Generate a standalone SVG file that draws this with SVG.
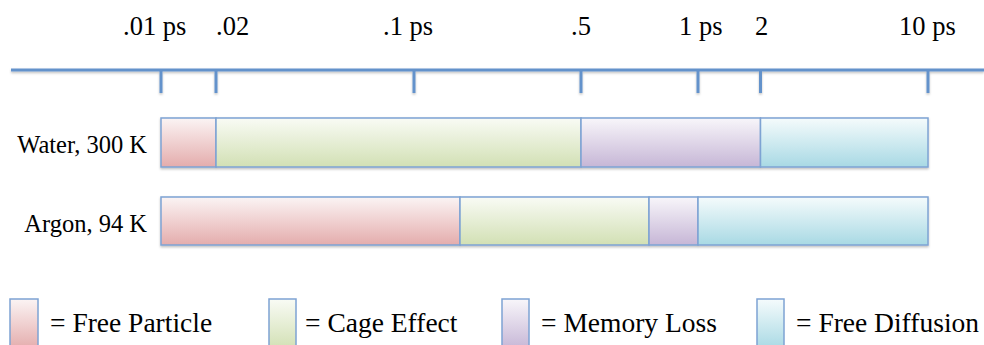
<svg xmlns="http://www.w3.org/2000/svg" width="984" height="345" viewBox="0 0 984 345">
<defs>
<linearGradient id="gPink" x1="0" y1="0" x2="0" y2="1"><stop offset="0" stop-color="#fbf4f4"/><stop offset="1" stop-color="#e4acac"/></linearGradient>
<linearGradient id="gGreen" x1="0" y1="0" x2="0" y2="1"><stop offset="0" stop-color="#f9fbf5"/><stop offset="1" stop-color="#d2e0b4"/></linearGradient>
<linearGradient id="gPurple" x1="0" y1="0" x2="0" y2="1"><stop offset="0" stop-color="#f8f6fa"/><stop offset="1" stop-color="#c6b6d6"/></linearGradient>
<linearGradient id="gCyan" x1="0" y1="0" x2="0" y2="1"><stop offset="0" stop-color="#f5fbfc"/><stop offset="1" stop-color="#a8d9e4"/></linearGradient>
<filter id="sh" x="-5%" y="-20%" width="110%" height="150%"><feDropShadow dx="0" dy="1.5" stdDeviation="1" flood-color="#000" flood-opacity="0.25"/></filter>
</defs>
<style>
text{fill:#000}
.tick{font-size:26.5px}
.row{font-size:24.5px}
.leg{font-size:27.5px}
.axis{stroke:#6492cb;stroke-width:3;fill:none}
.seg{stroke:#7ea3d3;stroke-width:1.5}
</style>
<g font-family="'Liberation Serif', 'Times New Roman', 'DejaVu Serif', serif">
<g id="axis" filter="url(#sh)">
<line class="axis" x1="11" y1="70" x2="984" y2="70"/>
<line class="axis" x1="161" y1="70" x2="161" y2="93"/>
<line class="axis" x1="216" y1="70" x2="216" y2="93"/>
<line class="axis" x1="414" y1="70" x2="414" y2="93"/>
<line class="axis" x1="581" y1="70" x2="581" y2="93"/>
<line class="axis" x1="698" y1="70" x2="698" y2="93"/>
<line class="axis" x1="760.5" y1="70" x2="760.5" y2="93"/>
<line class="axis" x1="928" y1="70" x2="928" y2="93"/>
</g>
<g id="tick-labels">
<text class="tick" x="123" y="35">.01 ps</text>
<text class="tick" x="216" y="35">.02</text>
<text class="tick" x="383" y="35">.1 ps</text>
<text class="tick" x="571" y="35">.5</text>
<text class="tick" x="679" y="35">1 ps</text>
<text class="tick" x="755" y="35">2</text>
<text class="tick" x="899" y="35">10 ps</text>
</g>
<g id="water">
<text class="row" x="147" y="153" text-anchor="end">Water, 300 K</text>
<g filter="url(#sh)">
<rect class="seg" x="161" y="118" width="55" height="49" fill="url(#gPink)"/>
<rect class="seg" x="216" y="118" width="365" height="49" fill="url(#gGreen)"/>
<rect class="seg" x="581" y="118" width="179.5" height="49" fill="url(#gPurple)"/>
<rect class="seg" x="760.5" y="118" width="167.5" height="49" fill="url(#gCyan)"/>
</g>
</g>
<g id="argon">
<text class="row" x="147" y="232" text-anchor="end">Argon, 94 K</text>
<g filter="url(#sh)">
<rect class="seg" x="161" y="197" width="299" height="48" fill="url(#gPink)"/>
<rect class="seg" x="460" y="197" width="189" height="48" fill="url(#gGreen)"/>
<rect class="seg" x="649" y="197" width="49" height="48" fill="url(#gPurple)"/>
<rect class="seg" x="698" y="197" width="230" height="48" fill="url(#gCyan)"/>
</g>
</g>
<g id="legend-free-particle">
<rect class="seg" x="10" y="299" width="28" height="50" fill="url(#gPink)"/>
<text class="leg" x="50" y="332">= Free Particle</text>
</g>
<g id="legend-cage-effect">
<rect class="seg" x="269" y="299" width="27" height="50" fill="url(#gGreen)"/>
<text class="leg" x="305" y="332">= Cage Effect</text>
</g>
<g id="legend-memory-loss">
<rect class="seg" x="502" y="299" width="27" height="50" fill="url(#gPurple)"/>
<text class="leg" x="541" y="332">= Memory Loss</text>
</g>
<g id="legend-free-diffusion">
<rect class="seg" x="757" y="299" width="27" height="50" fill="url(#gCyan)"/>
<text class="leg" x="796" y="332">= Free Diffusion</text>
</g>
</g>
</svg>
